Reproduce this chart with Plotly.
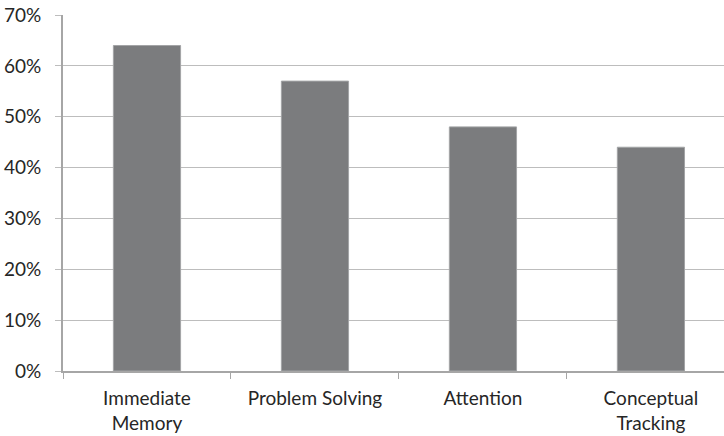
import plotly.graph_objects as go

categories = ["Immediate<br>Memory", "Problem Solving", "Attention", "Conceptual<br>Tracking"]
values = [64, 57, 48, 44]
tick_vals = [0, 10, 20, 30, 40, 50, 60, 70]
tick_text = ["0%", "10%", "20%", "30%", "40%", "50%", "60%", "70%"]

fig = go.Figure(go.Bar(
    x=categories, y=values,
    marker=dict(color="#7b7c7e", line=dict(color="#a3a4a6", width=1)),
    width=0.4,
))

fig.update_layout(
    width=724, height=436,
    margin=dict(l=63, r=0, t=15, b=65),
    paper_bgcolor="white", plot_bgcolor="white",
    font=dict(family="Lato, sans-serif", size=19, color="#262626"),
    showlegend=False,
)
fig.update_yaxes(
    range=[0, 70], tickvals=tick_vals, ticktext=tick_text,
    showgrid=True, gridcolor="#bdbdbd", gridwidth=1,
    showline=True, linecolor="#a6a6a6", linewidth=2,
    ticks="outside", ticklen=6, tickcolor="#bdbdbd",
    ticklabelstandoff=10, zeroline=False,
)
fig.update_xaxes(
    range=[-0.5, 3.435],
    showline=True, linecolor="#a6a6a6", linewidth=2,
    ticks="outside", ticklen=6, tickcolor="#a6a6a6", tickson="boundaries",
    showgrid=False, ticklabelstandoff=9,
)

fig.write_html("out.html")
